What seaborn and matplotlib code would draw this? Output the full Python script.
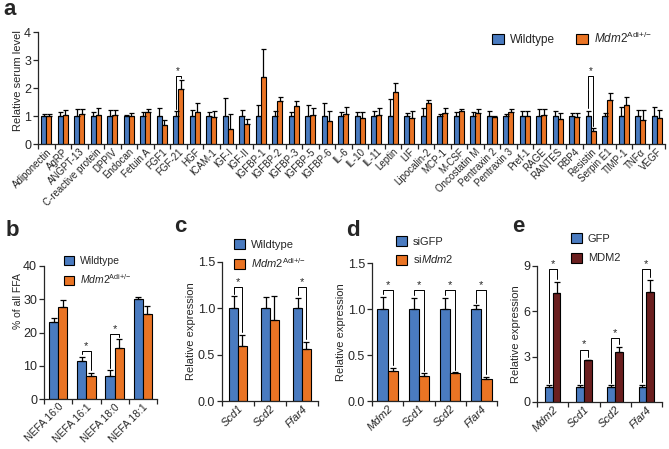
import matplotlib
matplotlib.use('Agg')
import matplotlib.pyplot as plt
import pandas as pd
import seaborn as sns
from matplotlib.patches import Patch
from matplotlib.ticker import FixedLocator, FormatStrFormatter

sns.set_style('ticks')
plt.rcParams['font.family'] = ['Liberation Sans', 'DejaVu Sans']
plt.rcParams['mathtext.fontset'] = 'custom'
plt.rcParams['mathtext.rm'] = 'Liberation Sans'
plt.rcParams['mathtext.it'] = 'Liberation Sans:italic'
plt.rcParams['axes.linewidth'] = 0.9

BLUE = '#4a7bc0'
ORANGE = '#ea7424'
MAROON = '#6b1f1f'
MDM2_ADI = r'$\mathit{Mdm2}^{\mathrm{Adi{+}/{-}}}$'

# Panel a: serum adipokine array
a_cats = ['Adiponectin', 'AgRP', 'ANGPT-13', 'C-reactive protein', 'DPPIV', 'Endocan',
          'Fetuin A', 'FGF1', 'FGF-21', 'HGF', 'ICAM-1', 'IGF-I', 'IGF-II', 'IGFBP-1',
          'IGFBP-2', 'IGFBP-3', 'IGFBP-5', 'IGFBP-6', 'IL-6', 'IL-10', 'IL-11', 'Leptin',
          'LIF', 'Lipocalin-2', 'MCP-1', 'M-CSF', 'Oncostatin M', 'Pentraxin 2',
          'Pentraxin 3', 'Pref-1', 'RAGE', 'RANTES', 'RBP4', 'Resistin', 'Serpin E1',
          'TIMP-1', 'TNFα', 'VEGF']
a_wt = [1.0] * 38
a_wt_err = [0.07, 0.13, 0.26, 0.14, 0.20, 0.05, 0.13, 0.27, 0.18, 0.21, 0.13, 0.65, 0.20,
            0.38, 0.18, 0.14, 0.38, 0.46, 0.15, 0.15, 0.17, 0.62, 0.12, 0.30, 0.08, 0.13,
            0.14, 0.19, 0.07, 0.18, 0.25, 0.19, 0.12, 0.19, 0.10, 0.33, 0.23, 0.31]
a_mut = [0.99, 1.02, 1.08, 1.05, 1.02, 1.00, 1.15, 0.67, 1.98, 1.15, 0.98, 0.55, 0.73,
         2.40, 1.52, 1.34, 1.05, 0.83, 1.08, 0.93, 1.04, 1.84, 0.94, 1.47, 1.10, 1.18,
         1.10, 0.95, 1.15, 1.00, 1.02, 0.88, 0.97, 0.46, 1.58, 1.38, 0.87, 0.94]
a_mut_err = [0.08, 0.18, 0.18, 0.22, 0.20, 0.12, 0.10, 0.17, 0.30, 0.30, 0.19, 0.51, 0.15,
             1.00, 0.15, 0.20, 0.25, 0.35, 0.25, 0.22, 0.26, 0.33, 0.23, 0.09, 0.20, 0.06,
             0.16, 0.04, 0.11, 0.18, 0.23, 0.24, 0.13, 0.10, 0.23, 0.31, 0.34, 0.27]
a_sig = [(8, 2.44), (33, 2.43)]

# Panel b: NEFA composition
b_cats = ['NEFA 16:0', 'NEFA 16:1', 'NEFA 18:0', 'NEFA 18:1']
b_wt = [23.3, 11.4, 7.0, 30.1]
b_wt_err = [1.1, 1.2, 1.6, 0.7]
b_mut = [27.8, 7.0, 15.2, 25.6]
b_mut_err = [1.9, 0.8, 2.7, 2.3]
b_sig = [(1, 14.3), (2, 19.5)]

# Panel c: Wildtype vs Mdm2 Adi+/-
c_cats = ['Scd1', 'Scd2', 'Ffar4']
c_wt = [1.0, 1.0, 1.0]
c_wt_err = [0.13, 0.12, 0.11]
c_mut = [0.59, 0.87, 0.56]
c_mut_err = [0.12, 0.26, 0.08]
c_sig = [(0, 1.23), (2, 1.23)]

# Panel d: siGFP vs siMdm2
d_cats = ['Mdm2', 'Scd1', 'Scd2', 'Ffar4']
d_ctl = [1.0, 1.0, 1.0, 1.0]
d_ctl_err = [0.13, 0.12, 0.12, 0.04]
d_kd = [0.33, 0.27, 0.30, 0.24]
d_kd_err = [0.03, 0.03, 0.01, 0.02]
d_sig = [(0, 1.21), (1, 1.21), (2, 1.21), (3, 1.21)]

# Panel e: GFP vs MDM2 overexpression
e_cats = ['Mdm2', 'Scd1', 'Scd2', 'Ffar4']
e_ctl = [1.0, 1.0, 1.0, 1.0]
e_ctl_err = [0.1, 0.1, 0.1, 0.15]
e_oe = [7.2, 2.75, 3.3, 7.3]
e_oe_err = [0.75, 0.05, 0.34, 0.8]
e_sig = [(0, 8.8), (1, 3.47), (2, 4.26), (3, 8.8)]

W, H = 669, 449
fig = plt.figure(figsize=(W / 100, H / 100), dpi=100)


def rect(l, r, t, b):
    return [l / W, 1 - b / H, (r - l) / W, (b - t) / H]


def draw_panel(ax, cats, names, m1, e1, m2, e2, colors, width, capsize, ylim, yticks,
               sig, tick_fs, italic=False, star_fs=8):
    df = pd.DataFrame({'cat': cats * 2, 'val': m1 + m2,
                       'grp': [names[0]] * len(cats) + [names[1]] * len(cats)})
    sns.barplot(data=df, x='cat', y='val', hue='grp', palette=colors, width=width,
                edgecolor='black', linewidth=0.8, errorbar=None, legend=False, ax=ax,
                saturation=1)
    tops = []
    for cont, errs in zip(ax.containers, [e1, e2]):
        xs = [p.get_x() + p.get_width() / 2 for p in cont]
        hs = [p.get_height() for p in cont]
        ax.errorbar(xs, hs, yerr=[[0] * len(errs), errs], fmt='none', ecolor='black',
                    elinewidth=0.9, capsize=capsize, capthick=0.9, zorder=3)
        tops.append((xs, [h + e for h, e in zip(hs, errs)]))
    gap = ylim[1] * 0.02
    for i, top in sig:
        x1, y1 = tops[0][0][i], tops[0][1][i] + gap
        x2, y2 = tops[1][0][i], tops[1][1][i] + gap
        ax.plot([x1, x1, x2, x2], [y1, top, top, y2], color='black', lw=0.7)
        ax.text((x1 + x2) / 2, top, '*', ha='center', va='bottom', fontsize=star_fs)
    ax.set_xlim(-0.5, len(cats) - 0.5)
    ax.set_ylim(*ylim)
    ax.set_yticks(yticks)
    ax.set_xlabel('')
    ax.xaxis.set_minor_locator(FixedLocator([i - 0.5 for i in range(len(cats) + 1)]))
    ax.tick_params(axis='x', which='major', length=0, pad=2)
    ax.tick_params(axis='x', which='minor', length=3.5, width=0.9)
    ax.tick_params(axis='y', length=3.5, width=0.9, pad=1.5)
    for lab in ax.get_xticklabels():
        lab.set_rotation(45)
        lab.set_ha('right')
        lab.set_rotation_mode('anchor')
        lab.set_fontsize(tick_fs)
        if italic:
            lab.set_fontstyle('italic')
    sns.despine(ax=ax)


def add_legend(ax, labels, colors, x, y, fs, ncol=1, spacing=0.6):
    handles = [Patch(facecolor=c, edgecolor='black', linewidth=0.8) for c in colors]
    ax.legend(handles, labels, loc='upper left', bbox_to_anchor=(x / W, 1 - y / H),
              bbox_transform=fig.transFigure, frameon=False, fontsize=fs, ncol=ncol,
              handlelength=1.0, handleheight=1.0, handletextpad=0.5, borderpad=0,
              borderaxespad=0, labelspacing=spacing, columnspacing=1.8)


# a
ax_a = fig.add_axes(rect(38, 665, 32, 144))
draw_panel(ax_a, a_cats, ['Wildtype', 'Mdm2'], a_wt, a_wt_err, a_mut, a_mut_err,
           [BLUE, ORANGE], 0.62, 1.8, (0, 4), [0, 1, 2, 3, 4], a_sig, 7, star_fs=7)
ax_a.tick_params(axis='y', labelsize=9)
ax_a.set_ylabel('Relative serum level', fontsize=8)
ax_a.yaxis.set_label_coords(-0.024, 0.57)
add_legend(ax_a, ['Wildtype', MDM2_ADI], [BLUE, ORANGE], 492, 31, 8.5, ncol=2)

# b
ax_b = fig.add_axes(rect(44, 157, 266, 399))
draw_panel(ax_b, b_cats, ['Wildtype', 'Mdm2'], b_wt, b_wt_err, b_mut, b_mut_err,
           [BLUE, ORANGE], 0.65, 2.5, (0, 40), [0, 10, 20, 30, 40], b_sig, 7.5)
ax_b.tick_params(axis='y', labelsize=9)
ax_b.set_ylabel('% of all FFA', fontsize=7.5)
ax_b.yaxis.set_label_coords(-0.186, 0.74)
add_legend(ax_b, ['Wildtype', MDM2_ADI], [BLUE, ORANGE], 64, 256, 7.5)

# c
ax_c = fig.add_axes(rect(222, 318, 262, 401))
draw_panel(ax_c, c_cats, ['Wildtype', 'Mdm2'], c_wt, c_wt_err, c_mut, c_mut_err,
           [BLUE, ORANGE], 0.55, 2.5, (0, 1.5), [0, 0.5, 1.0, 1.5], c_sig, 8,
           italic=True)
ax_c.yaxis.set_major_formatter(FormatStrFormatter('%.1f'))
ax_c.tick_params(axis='y', labelsize=9)
ax_c.set_ylabel('Relative expression', fontsize=8, labelpad=1.5)
add_legend(ax_c, ['Wildtype', MDM2_ADI], [BLUE, ORANGE], 234, 239, 8)

# d
ax_d = fig.add_axes(rect(372, 497, 263, 401))
draw_panel(ax_d, d_cats, ['siGFP', 'siMdm2'], d_ctl, d_ctl_err, d_kd, d_kd_err,
           [BLUE, ORANGE], 0.65, 2.5, (0, 1.5), [0, 0.5, 1.0, 1.5], d_sig, 8,
           italic=True)
ax_d.yaxis.set_major_formatter(FormatStrFormatter('%.1f'))
ax_d.tick_params(axis='y', labelsize=9)
ax_d.set_ylabel('Relative expression', fontsize=8, labelpad=1.5)
add_legend(ax_d, ['siGFP', r'si$\mathit{Mdm2}$'], [BLUE, ORANGE], 396, 236, 8)

# e
ax_e = fig.add_axes(rect(537, 662, 266, 402))
draw_panel(ax_e, e_cats, ['GFP', 'MDM2'], e_ctl, e_ctl_err, e_oe, e_oe_err,
           [BLUE, MAROON], 0.5, 2.5, (0, 9), [0, 3, 6, 9], e_sig, 8, italic=True)
ax_e.tick_params(axis='y', labelsize=9)
ax_e.set_ylabel('Relative expression', fontsize=8, labelpad=1.5)
add_legend(ax_e, ['GFP', 'MDM2'], [BLUE, MAROON], 571, 233, 8, spacing=0.8)

for lbl, x, y in [('a', 3, 15), ('b', 6, 236), ('c', 174, 232), ('d', 346, 236),
                  ('e', 512, 232)]:
    fig.text(x / W, 1 - y / H, lbl, fontsize=16, fontweight='bold', va='baseline')

fig.savefig('out.png', dpi=100)
